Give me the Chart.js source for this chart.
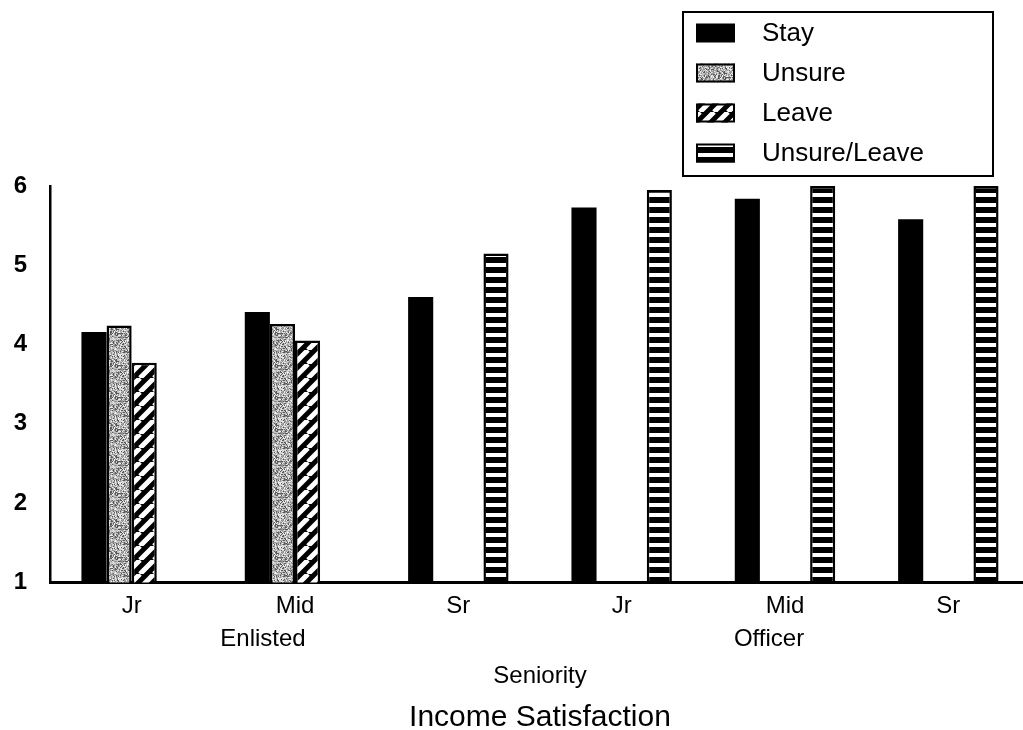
<!DOCTYPE html>
<html>
<head>
<meta charset="utf-8">
<script src="https://cdn.jsdelivr.net/npm/chart.js@4.4.1/dist/chart.umd.min.js"></script>
<style>
  html, body { margin: 0; padding: 0; background: #fff; overflow: hidden; width: 1023px; height: 730px; }
  #wrap { position: relative; width: 1032px; height: 736px; }
</style>
</head>
<body>
<div id="wrap"><canvas id="chart"></canvas></div>
<script>
// Mean income satisfaction by seniority, split by career intention
const categories = ['Jr', 'Mid', 'Sr', 'Jr', 'Mid', 'Sr'];
const groupNames = ['Enlisted', 'Officer'];
const stay        = [4.16, 4.41, 4.60, 5.73, 5.84, 5.58];
const unsure      = [4.24, 4.26, null, null, null, null];
const leave       = [3.77, 4.05, null, null, null, null];
const unsureLeave = [null, null, 5.15, 5.95, 6.00, 6.00];
const yTicks = [1, 2, 3, 4, 5, 6];

const FONT = "'Liberation Sans', Arial, Helvetica, sans-serif";

// --- fill textures -------------------------------------------------------
function tile(w, h, paint) {
  const c = document.createElement('canvas');
  c.width = w; c.height = h;
  const g = c.getContext('2d');
  paint(g, w, h);
  return g.createPattern(c, 'repeat');
}

// fine grey stipple (integer hash per pixel)
const speckle = tile(32, 32, (g, w, h) => {
  const img = g.createImageData(w, h);
  for (let y = 0; y < h; y++) {
    for (let x = 0; x < w; x++) {
      let n = Math.imul(x, 374761393) + Math.imul(y, 668265263);
      n = Math.imul(n ^ (n >>> 13), 1274126177);
      n = (n ^ (n >>> 16)) >>> 0;
      const v = n % 100;
      const s = v < 20 ? 90 : v < 48 ? 150 : v < 80 ? 195 : 235;
      const i = (y * w + x) * 4;
      img.data[i] = img.data[i + 1] = img.data[i + 2] = s;
      img.data[i + 3] = 255;
    }
  }
  g.putImageData(img, 0, 0);
});

// white diagonal bands on black
const diagonal = tile(14, 14, (g, w, h) => {
  g.fillStyle = '#000';
  g.fillRect(0, 0, w, h);
  g.strokeStyle = '#fff';
  g.lineWidth = 5;
  g.beginPath();
  for (const k of [-14, 0, 14]) {
    g.moveTo(k, h);
    g.lineTo(k + w, 0);
  }
  g.stroke();
});

// white horizontal dashes on black
const rungs = tile(4, 10, (g, w, h) => {
  g.fillStyle = '#000';
  g.fillRect(0, 0, w, h);
  g.fillStyle = '#fff';
  g.fillRect(0, 3, w, 4);
});

// --- plugins ---------------------------------------------------------------
// second row of category labels: service branch
const groupLabels = {
  id: 'groupLabels',
  afterDraw(chart) {
    const { ctx, scales: { x } } = chart;
    ctx.save();
    ctx.font = '24px ' + FONT;
    ctx.fillStyle = '#000';
    ctx.textAlign = 'center';
    ctx.textBaseline = 'middle';
    ctx.fillText(groupNames[0], x.getPixelForValue(1) - 32, 639);
    ctx.fillText(groupNames[1], x.getPixelForValue(4) - 16, 639);
    ctx.restore();
  }
};

// boxed legend with texture swatches
const boxLegend = {
  id: 'boxLegend',
  afterDraw(chart) {
    const { ctx } = chart;
    const left = 683, top = 12, width = 310, height = 164;
    ctx.save();
    ctx.fillStyle = '#fff';
    ctx.fillRect(left, top, width, height);
    ctx.lineWidth = 2;
    ctx.strokeStyle = '#000';
    ctx.strokeRect(left, top, width, height);
    ctx.font = '26px ' + FONT;
    ctx.textBaseline = 'middle';
    chart.data.datasets.forEach((ds, i) => {
      const cy = 33 + i * 40;
      const sx = 696, sw = 39, sh = 19, sy = cy - sh / 2;
      ctx.fillStyle = ds.backgroundColor;
      ctx.fillRect(sx, sy, sw, sh);
      if (ds.borderWidth) {
        ctx.lineWidth = 2;
        ctx.strokeStyle = '#000';
        ctx.strokeRect(sx + 1, sy + 1, sw - 2, sh - 2);
      }
      ctx.fillStyle = '#000';
      ctx.fillText(ds.label, 762, cy + 1);
    });
    ctx.restore();
  }
};

// --- chart -----------------------------------------------------------------
new Chart(document.getElementById('chart'), {
  type: 'bar',
  data: {
    labels: categories,
    datasets: [
      { label: 'Stay',         data: stay,        backgroundColor: '#000',   borderWidth: 0 },
      { label: 'Unsure',       data: unsure,      backgroundColor: speckle,  borderColor: '#000', borderWidth: 2.5 },
      { label: 'Leave',        data: leave,       backgroundColor: diagonal, borderColor: '#000', borderWidth: 2.5 },
      { label: 'Unsure/Leave', data: unsureLeave, backgroundColor: rungs,    borderColor: '#000', borderWidth: 2.5 }
    ]
  },
  options: {
    responsive: true,
    maintainAspectRatio: false,
    animation: false,
    devicePixelRatio: 1,
    categoryPercentage: 0.615,
    barPercentage: 1,
    layout: { padding: { top: 186, left: 12, right: 2, bottom: 0 } },
    plugins: {
      legend: { display: false },
      tooltip: { enabled: false },
      title: {
        display: true,
        position: 'bottom',
        fullSize: false,
        text: 'Income Satisfaction',
        color: '#000',
        font: { family: FONT, size: 30, weight: 'normal' },
        padding: { top: 9, bottom: 0 }
      }
    },
    scales: {
      x: {
        grid: { display: false, drawTicks: false, tickLength: 0 },
        border: { color: '#000', width: 3 },
        ticks: { color: '#000', font: { family: FONT, size: 24 }, padding: 10 },
        title: {
          display: true,
          text: 'Seniority',
          color: '#000',
          font: { family: FONT, size: 24 },
          padding: { top: 31, bottom: 0 }
        }
      },
      y: {
        min: 1,
        max: 6,
        afterBuildTicks: s => { s.ticks = yTicks.map(v => ({ value: v })); },
        afterFit: s => { s.width = 38; },
        grid: { display: false, drawTicks: false, tickLength: 0 },
        border: { color: '#000', width: 2.5 },
        ticks: { color: '#000', font: { family: FONT, size: 24, weight: 'bold' }, padding: 23 }
      }
    }
  },
  plugins: [groupLabels, boxLegend]
});
</script>
</body>
</html>
